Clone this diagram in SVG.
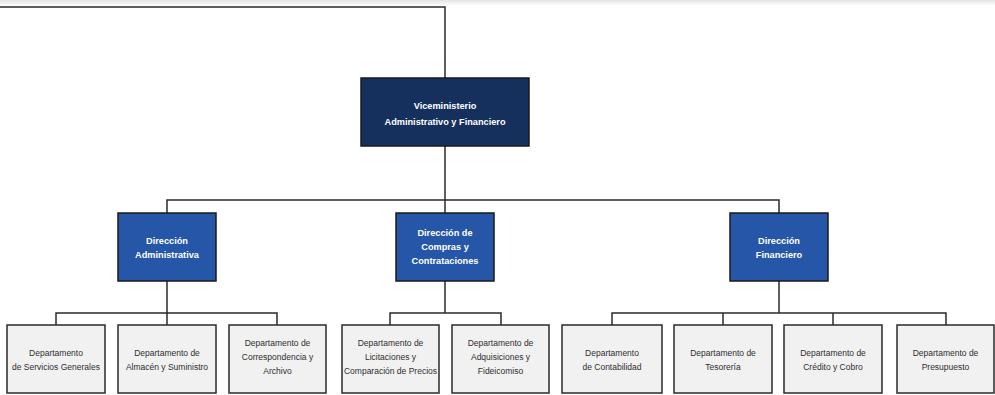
<svg xmlns="http://www.w3.org/2000/svg" width="995" height="395" viewBox="0 0 995 395">
<defs>
<linearGradient id="topg" x1="0" y1="0" x2="0" y2="1"><stop offset="0" stop-color="#e4e4e4"/><stop offset="1" stop-color="#ffffff"/></linearGradient>
</defs>
<style>
.vice{fill:#15305d;stroke:#1a1a1a;stroke-width:1.5}
.dir{fill:#2656a7;stroke:#1a1a1a;stroke-width:1.5}
.dep{fill:#f1f1f1;stroke:#2a2a2a;stroke-width:1.5}
.wt{fill:#ffffff;font-family:"Liberation Sans",Arial,sans-serif;font-weight:bold;font-size:9.2px;text-anchor:middle}
.dt{fill:#2e2e2e;font-family:"Liberation Sans",Arial,sans-serif;font-size:8.5px;text-anchor:middle}
.ln{fill:none;stroke:#2a2a2a;stroke-width:1.5}
</style>
<rect x="0" y="0" width="995" height="395" fill="#ffffff"/>
<rect x="0" y="0" width="995" height="6" fill="url(#topg)"/>
<g id="connectors">
<polyline class="ln" points="0,7 445,7 445,78"/>
<line class="ln" x1="445" y1="146" x2="445" y2="213"/>
<polyline class="ln" points="167,213 167,200 779,200 779,213"/>
<line class="ln" x1="167" y1="281" x2="167" y2="325"/>
<polyline class="ln" points="56,325 56,313 277,313 277,325"/>
<line class="ln" x1="445" y1="281" x2="445" y2="313"/>
<polyline class="ln" points="390,325 390,313 501,313 501,325"/>
<line class="ln" x1="779" y1="281" x2="779" y2="313"/>
<polyline class="ln" points="612,325 612,313 946,313 946,325"/>
<line class="ln" x1="723" y1="313" x2="723" y2="325"/>
<line class="ln" x1="833" y1="313" x2="833" y2="325"/>
</g>
<g id="vice">
<rect class="vice" x="361" y="78" width="168" height="68"/>
<text class="wt" x="445" y="108.5">Viceministerio</text>
<text class="wt" x="445" y="124.5">Administrativo y Financiero</text>
</g>
<g id="dir-admin">
<rect class="dir" x="118" y="213" width="98" height="68"/>
<text class="wt" x="167" y="243.5">Dirección</text>
<text class="wt" x="167" y="257.5">Administrativa</text>
</g>
<g id="dir-compras">
<rect class="dir" x="396" y="213" width="98" height="68"/>
<text class="wt" x="445" y="235.5">Dirección de</text>
<text class="wt" x="445" y="249.5">Compras y</text>
<text class="wt" x="445" y="263.5">Contrataciones</text>
</g>
<g id="dir-fin">
<rect class="dir" x="730" y="213" width="98" height="68"/>
<text class="wt" x="779" y="243.5">Dirección</text>
<text class="wt" x="779" y="257.5">Financiero</text>
</g>
<g id="dep-servicios">
<rect class="dep" x="7" y="325" width="98" height="68"/>
<text class="dt" x="56" y="356">Departamento</text>
<text class="dt" x="56" y="370">de Servicios Generales</text>
</g>
<g id="dep-almacen">
<rect class="dep" x="118" y="325" width="98" height="68"/>
<text class="dt" x="167" y="356">Departamento de</text>
<text class="dt" x="167" y="370">Almacén y Suministro</text>
</g>
<g id="dep-correspondencia">
<rect class="dep" x="229" y="325" width="97" height="68"/>
<text class="dt" x="277.5" y="346">Departamento de</text>
<text class="dt" x="277.5" y="360">Correspondencia y</text>
<text class="dt" x="277.5" y="374">Archivo</text>
</g>
<g id="dep-licitaciones">
<rect class="dep" x="342" y="325" width="97" height="68"/>
<text class="dt" x="390.5" y="346">Departamento de</text>
<text class="dt" x="390.5" y="360">Licitaciones y</text>
<text class="dt" x="390.5" y="374">Comparación de Precios</text>
</g>
<g id="dep-adquisiciones">
<rect class="dep" x="452" y="325" width="97" height="68"/>
<text class="dt" x="500.5" y="346">Departamento de</text>
<text class="dt" x="500.5" y="360">Adquisiciones y</text>
<text class="dt" x="500.5" y="374">Fideicomiso</text>
</g>
<g id="dep-contabilidad">
<rect class="dep" x="562" y="325" width="100" height="68"/>
<text class="dt" x="612" y="356">Departamento</text>
<text class="dt" x="612" y="370">de Contabilidad</text>
</g>
<g id="dep-tesoreria">
<rect class="dep" x="674" y="325" width="98" height="68"/>
<text class="dt" x="723" y="356">Departamento de</text>
<text class="dt" x="723" y="370">Tesorería</text>
</g>
<g id="dep-credito">
<rect class="dep" x="784" y="325" width="98" height="68"/>
<text class="dt" x="833" y="356">Departamento de</text>
<text class="dt" x="833" y="370">Crédito y Cobro</text>
</g>
<g id="dep-presupuesto">
<rect class="dep" x="897" y="325" width="97" height="68"/>
<text class="dt" x="945.5" y="356">Departamento de</text>
<text class="dt" x="945.5" y="370">Presupuesto</text>
</g>
</svg>
